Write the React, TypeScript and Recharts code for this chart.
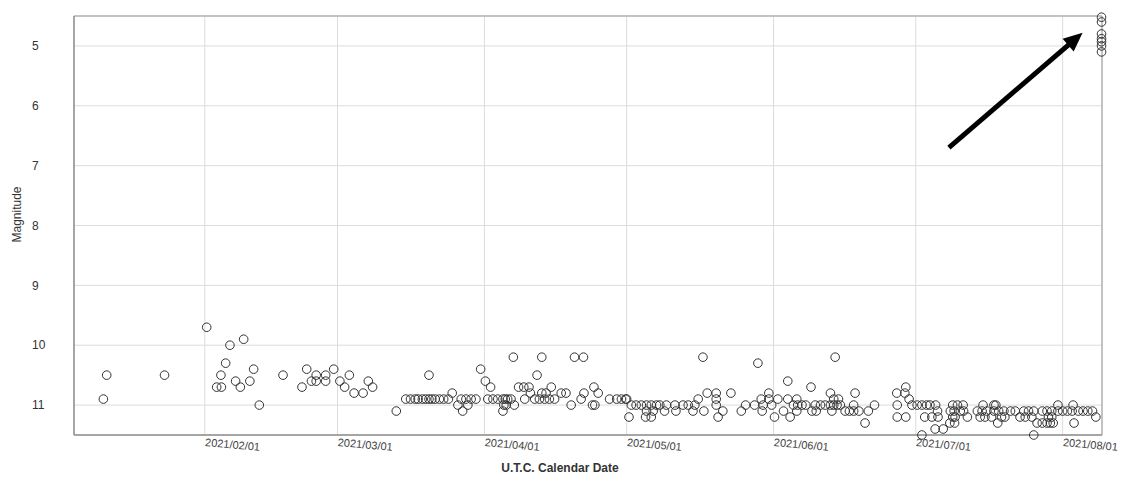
import {
  ScatterChart,
  Scatter,
  XAxis,
  YAxis,
  CartesianGrid,
  ReferenceArea,
  ReferenceLine
} from "recharts";

// days since 2021-01-01 00:00 UTC at the start of each month (Jan..Aug)
const monthStarts = [0, 31, 59, 90, 120, 151, 181, 212];

const xTicks = [31, 59, 90, 120, 151, 181, 212];
const xTickLabels = [
  "2021/02/01",
  "2021/03/01",
  "2021/04/01",
  "2021/05/01",
  "2021/06/01",
  "2021/07/01",
  "2021/08/01"
];
const yTicks = [5, 6, 7, 8, 9, 10, 11];

// observations per month: [days after month start, magnitude]
const janObs = [[9.6, 10.9], [10.3, 10.5], [22.5, 10.5]];

const febObs = [
  [0.4, 9.7], [2.5, 10.7], [3.5, 10.7], [3.4, 10.5], [4.4, 10.3], [5.3, 10.0],
  [6.5, 10.6], [7.5, 10.7], [8.2, 9.9], [9.5, 10.6], [10.3, 10.4], [11.5, 11.0],
  [16.5, 10.5], [20.5, 10.7], [21.5, 10.4], [22.5, 10.6], [23.5, 10.5], [23.5, 10.6],
  [25.5, 10.5], [25.5, 10.6], [27.2, 10.4]
];

const marObs = [
  [0.5, 10.6], [1.5, 10.7], [2.5, 10.5], [3.5, 10.8], [5.4, 10.8], [6.5, 10.6],
  [7.4, 10.7], [12.4, 11.1], [14.4, 10.9], [15.4, 10.9], [16.4, 10.9], [17.0, 10.9],
  [17.9, 10.9], [18.6, 10.9], [19.3, 10.9], [19.9, 10.9], [20.6, 10.9], [21.5, 10.9],
  [22.4, 10.9], [23.4, 10.9], [19.3, 10.5], [24.2, 10.8], [25.4, 11.0], [26.4, 11.1],
  [27.5, 11.0], [26.1, 10.9], [27.1, 10.9], [28.2, 10.9], [29.2, 10.9], [30.2, 10.4]
];

const aprObs = [
  [0.2, 10.6], [1.3, 10.7], [0.7, 10.9], [1.8, 10.9], [2.8, 10.9], [3.9, 10.9],
  [4.4, 10.9], [4.9, 10.9], [5.6, 10.9], [4.1, 11.0], [4.6, 11.0], [3.9, 11.1],
  [6.3, 11.0], [6.1, 10.2], [7.2, 10.7], [8.3, 10.7], [9.4, 10.7], [8.5, 10.9],
  [9.7, 10.8], [11.1, 10.5], [12.1, 10.2], [10.6, 10.9], [11.6, 10.9], [12.7, 10.9],
  [13.7, 10.9], [14.8, 10.9], [12.1, 10.8], [13.0, 10.8], [14.1, 10.7], [16.2, 10.8],
  [17.2, 10.8], [18.3, 11.0], [19.0, 10.2], [20.9, 10.2], [20.4, 10.9], [21.0, 10.8],
  [22.8, 11.0], [23.3, 11.0], [23.1, 10.7], [24.0, 10.8], [26.4, 10.9], [27.9, 10.9],
  [28.9, 10.9], [29.8, 10.9]
];

const mayObs = [
  [0.0, 10.9], [1.0, 11.0], [2.0, 11.0], [3.1, 11.0], [4.2, 11.0], [5.2, 11.0],
  [6.3, 11.0], [7.0, 11.0], [8.4, 11.0], [10.2, 11.0], [11.9, 11.0], [13.0, 11.0],
  [14.4, 11.0], [4.2, 11.1], [5.6, 11.1], [8.0, 11.1], [10.4, 11.1], [14.0, 11.1],
  [16.3, 11.1], [0.5, 11.2], [4.0, 11.2], [5.2, 11.2], [15.1, 10.9], [17.0, 10.8],
  [16.1, 10.2], [18.9, 10.8], [18.9, 10.9], [18.9, 11.0], [19.3, 11.2], [20.3, 11.1],
  [22.0, 10.8], [24.2, 11.1], [25.1, 11.0], [27.0, 11.0], [27.7, 10.3], [28.4, 10.9],
  [28.6, 11.1], [28.8, 11.0], [30.0, 10.8], [30.0, 10.9], [30.6, 11.0]
];

const junObs = [
  [0.2, 11.2], [0.9, 10.9], [2.1, 11.1], [3.0, 10.6], [3.0, 10.9], [3.5, 11.2],
  [4.2, 11.0], [5.1, 11.0], [6.0, 11.0], [6.8, 11.0], [4.9, 10.9], [4.9, 11.1],
  [7.9, 10.7], [8.1, 11.1], [8.8, 11.0], [9.9, 11.0], [10.9, 11.0], [12.0, 11.0],
  [12.7, 11.0], [13.4, 11.0], [14.1, 11.0], [9.0, 11.1], [12.0, 10.8], [12.3, 11.1],
  [12.7, 10.9], [13.7, 10.9], [13.0, 10.2], [15.1, 11.1], [16.0, 11.1], [16.9, 11.1],
  [18.0, 11.1], [16.9, 11.0], [17.2, 10.8], [19.3, 11.3], [20.0, 11.1], [21.3, 11.0],
  [26.0, 10.8], [26.1, 11.0], [26.1, 11.2], [27.9, 11.2], [27.9, 10.7], [27.7, 10.8],
  [28.6, 10.9], [29.2, 11.0]
];

const julObs = [
  [0.3, 11.0], [1.3, 11.0], [2.3, 11.0], [3.0, 11.0], [1.9, 11.2], [3.4, 11.2],
  [1.3, 11.5], [4.1, 11.4], [5.8, 11.4], [4.2, 11.0], [4.6, 11.1], [4.7, 11.2],
  [7.8, 11.0], [8.8, 11.0], [10.0, 11.0], [7.3, 11.1], [8.1, 11.1], [9.4, 11.1],
  [10.1, 11.1], [7.8, 11.2], [8.3, 11.2], [7.2, 11.3], [8.2, 11.3], [10.9, 11.2],
  [13.0, 11.1], [14.0, 11.1], [15.0, 11.1], [16.5, 11.1], [17.5, 11.1], [18.6, 11.1],
  [20.0, 11.1], [21.0, 11.1], [22.8, 11.1], [23.8, 11.1], [24.9, 11.1], [14.2, 11.0],
  [16.5, 11.0], [16.9, 11.0], [17.3, 11.3], [13.6, 11.2], [14.6, 11.2], [16.0, 11.2],
  [18.1, 11.2], [18.8, 11.2], [22.0, 11.2], [23.1, 11.2], [24.5, 11.2], [24.9, 11.5],
  [25.6, 11.3], [26.7, 11.3], [27.7, 11.3], [28.4, 11.3], [29.0, 11.3], [28.0, 11.2],
  [28.7, 11.2], [26.7, 11.1], [27.7, 11.1], [28.7, 11.1], [30.0, 11.1], [30.0, 11.0]
];

const augObs = [
  [0.0, 11.1], [1.0, 11.1], [2.0, 11.1], [3.3, 11.1], [4.3, 11.1], [5.3, 11.1],
  [6.3, 11.1], [2.2, 11.0], [2.4, 11.3], [7.0, 11.2],
  [8.2, 4.52], [8.2, 4.6], [8.2, 4.8], [8.2, 4.88], [8.2, 4.93], [8.2, 5.0], [8.2, 5.1]
];

const obsByMonth = [janObs, febObs, marObs, aprObs, mayObs, junObs, julObs, augObs];

// annotation arrow pointing at the outburst
const arrowFrom = { x: 188, y: 6.7 };
const arrowTo = { x: 216.2, y: 4.78 };

const data = obsByMonth.flatMap((obs, m) =>
  obs.map(([d, mag]) => ({ day: monthStarts[m] + d, mag }))
);

const font = "'Liberation Sans', Arial, sans-serif";

const OpenCircle = (props: any) => (
  <circle cx={props.cx} cy={props.cy} r={4.3} fill="none" stroke="#333" strokeWidth={1} />
);

const DateTick = ({ x, y, payload }: any) => {
  const label = xTickLabels[xTicks.indexOf(payload.value)];
  const ty = y + 11;
  return (
    <text x={x} y={ty} transform={`rotate(5 ${x} ${ty})`} fontSize={11} fill="#444" fontFamily={font} textAnchor="start">
      {label}
    </text>
  );
};

// magnitude labels are left aligned in the original
const MagTick = ({ y, payload }: any) => (
  <text x={32} y={y} dy="0.355em" fontSize={12} fill="#333" fontFamily={font} textAnchor="start">
    {payload.value}
  </text>
);

const Arrow = ({ x1, y1, x2, y2 }: any) => {
  const ang = Math.atan2(y2 - y1, x2 - x1);
  const c = Math.cos(ang);
  const s = Math.sin(ang);
  const len = 19;
  const half = 8.5;
  const bx = x2 - len * c;
  const by = y2 - len * s;
  return (
    <g>
      <line x1={x1} y1={y1} x2={bx + 2 * c} y2={by + 2 * s} stroke="#000" strokeWidth={5} />
      <polygon points={`${x2},${y2} ${bx + half * s},${by - half * c} ${bx - half * s},${by + half * c}`} fill="#000" />
    </g>
  );
};

export default function App() {
  return (
    <div style={{ position: "absolute", left: 0, top: 0, background: "#fff" }}>
      <ScatterChart width={1121} height={477} margin={{ top: 16, right: 19, left: 0, bottom: 0 }}>
        <CartesianGrid stroke="#dcdcdc" />
        <XAxis
          type="number"
          dataKey="day"
          domain={[3.4, 220.3]}
          ticks={xTicks}
          height={42}
          tickLine={false}
          tickSize={0}
          tickMargin={0}
          axisLine={{ stroke: "#888" }}
          tick={<DateTick />}
          label={{
            content: ({ viewBox }: any) => (
              <text x={viewBox.x + viewBox.width / 2 - 28} y={viewBox.y + 37} textAnchor="middle" fontSize={12} fontWeight="bold" fill="#333" fontFamily={font}>
                U.T.C. Calendar Date
              </text>
            )
          }}
        />
        <YAxis
          type="number"
          dataKey="mag"
          domain={[4.5, 11.5]}
          reversed
          ticks={yTicks}
          width={74}
          tickLine={false}
          axisLine={{ stroke: "#888" }}
          tick={<MagTick />}
          label={{
            content: ({ viewBox }: any) => {
              const lx = viewBox.x + 17;
              const ly = viewBox.y + viewBox.height / 2 - 11;
              return (
                <text x={lx} y={ly} transform={`rotate(-90 ${lx} ${ly})`} textAnchor="middle" dominantBaseline="central" fontSize={12} fill="#333" fontFamily={font}>
                  Magnitude
                </text>
              );
            }
          }}
        />
        <ReferenceArea x1={3.4} x2={220.3} y1={4.5} y2={11.5} fill="none" stroke="#999" strokeOpacity={1} />
        <Scatter data={data} shape={<OpenCircle />} isAnimationActive={false} />
        <ReferenceLine segment={[arrowFrom, arrowTo]} shape={<Arrow />} />
      </ScatterChart>
    </div>
  );
}
